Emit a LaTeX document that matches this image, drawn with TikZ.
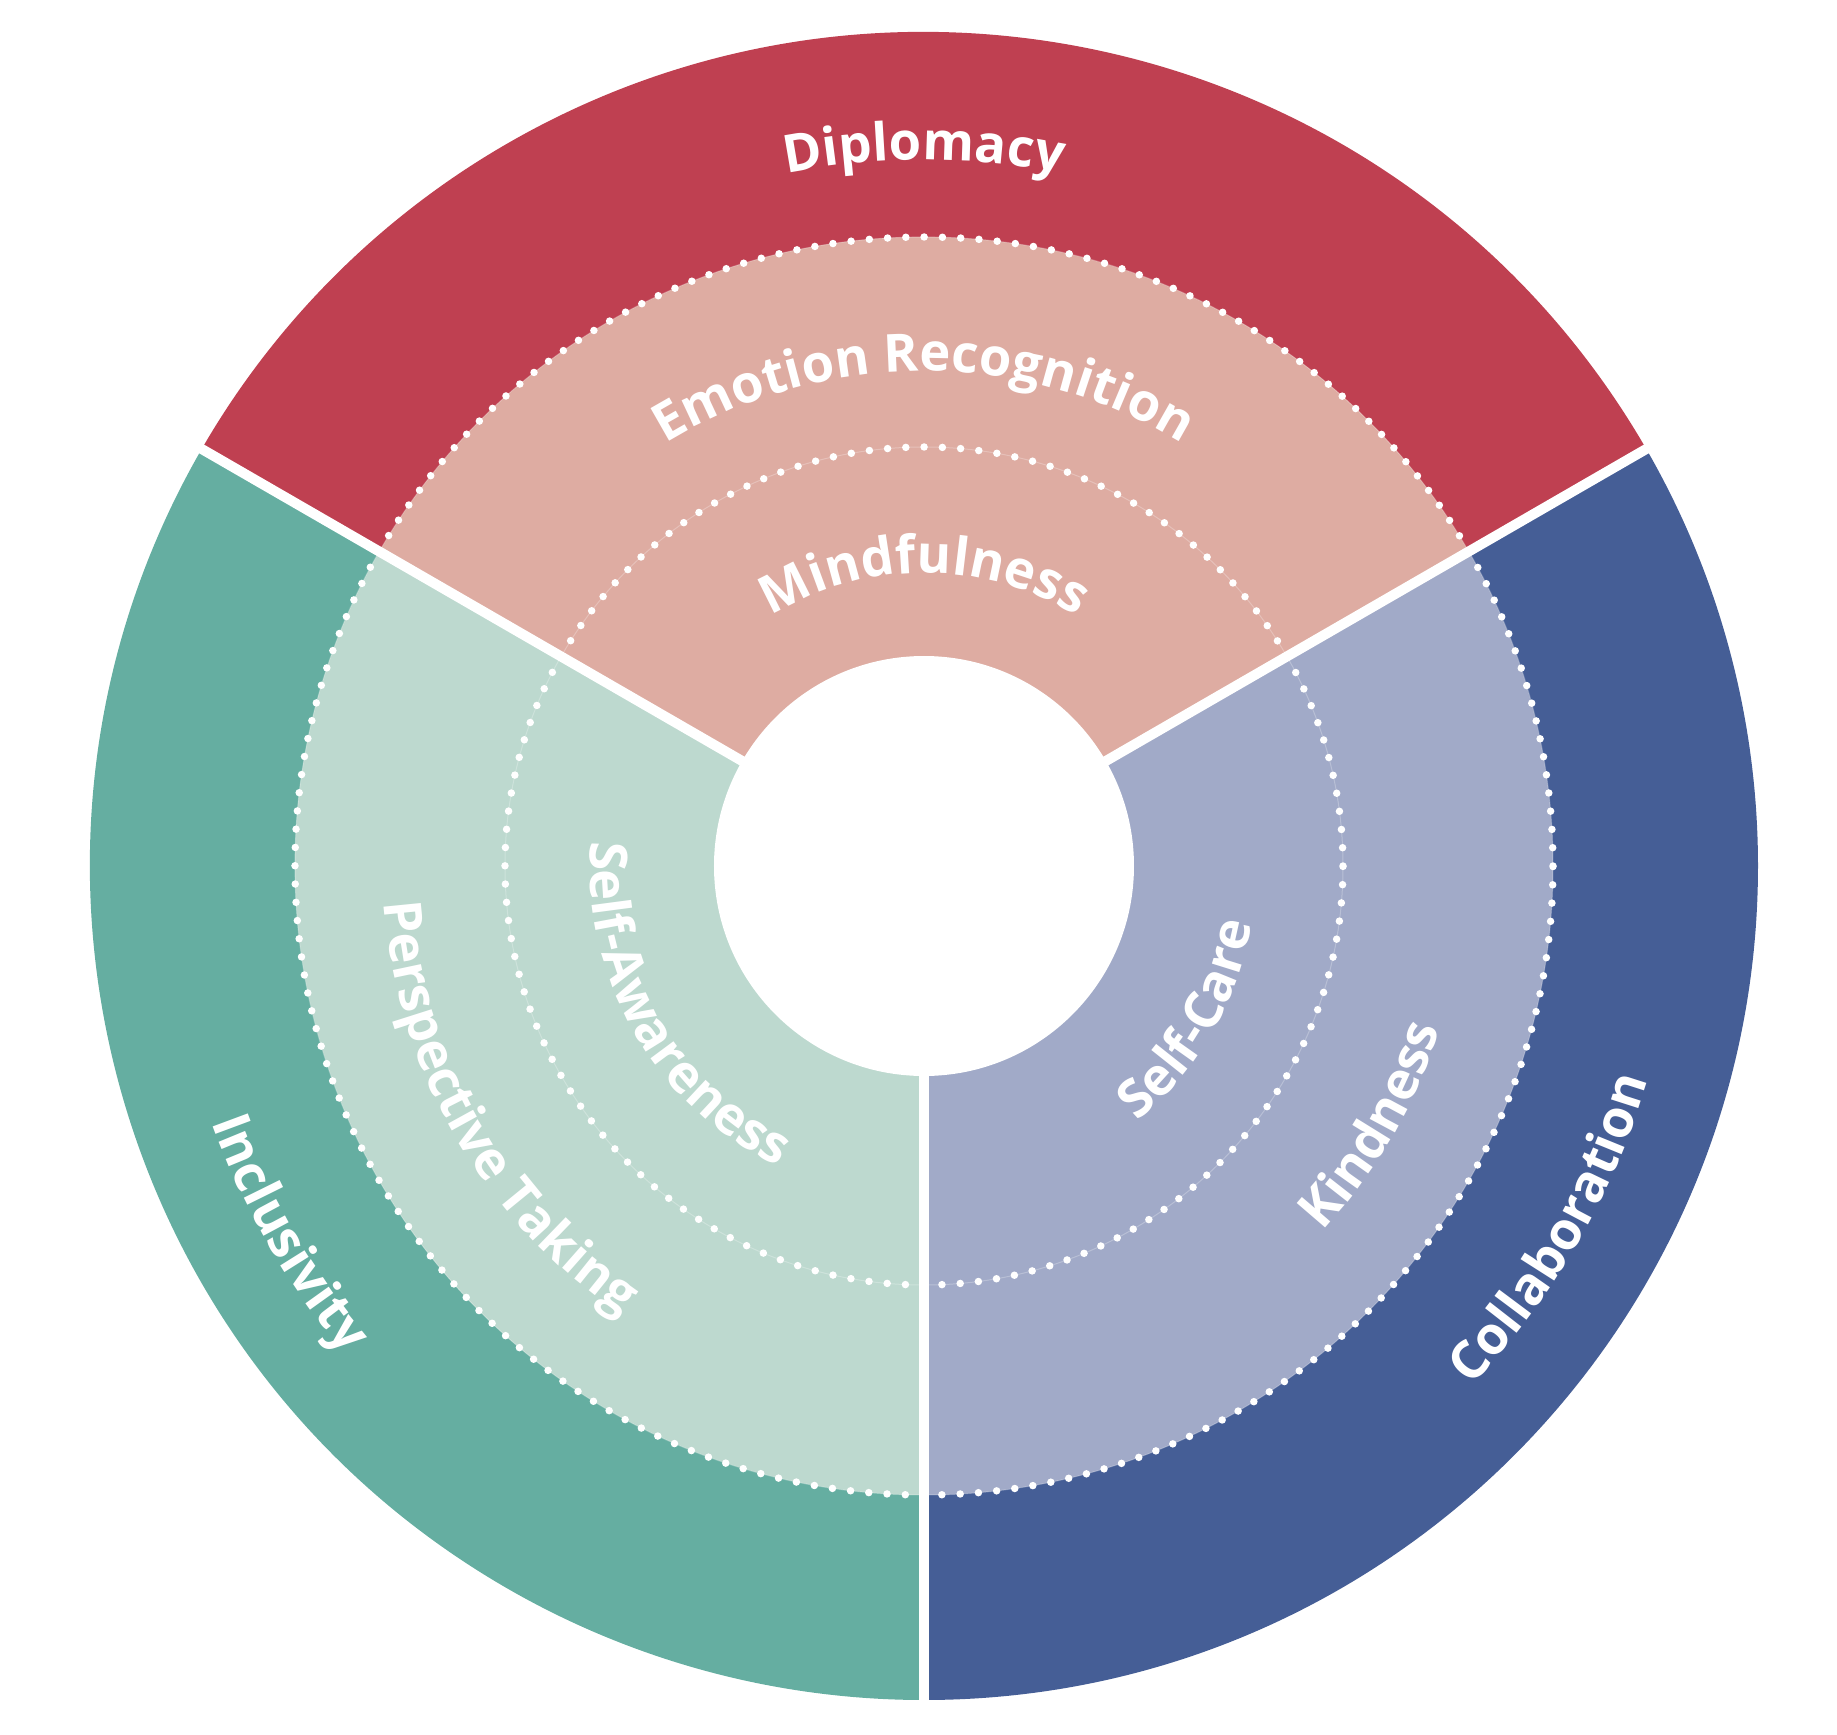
\documentclass[tikz,border=0pt]{standalone}
\usepackage{fontspec}
\setmainfont{Open Sans}
\usetikzlibrary{decorations.text}
\definecolor{redD}{HTML}{BF4051}
\definecolor{redL}{HTML}{DEACA2}
\definecolor{grnD}{HTML}{65AEA1}
\definecolor{grnL}{HTML}{BDD9CF}
\definecolor{bluD}{HTML}{455E96}
\definecolor{bluL}{HTML}{A1AAC8}
\newcommand\lblfont{\fontsize{52.5}{60}\selectfont\bfseries}
\tikzset{
  gapline/.style={draw=white, line width=10},
  dotring/.style={draw=white, line width=7.5, line cap=round, dash pattern=on 0pt off #1},
  faintring/.style={draw=white, opacity=0.25, line width=1},
  arclabel/.style={decorate, decoration={text along path, text={|\lblfont|#1}, text align=center, text color=white}},
}
\begin{document}
\begin{tikzpicture}[x=1pt,y=1pt]
\useasboundingbox (-924,-869) rectangle (913,866);
% outer sectors
\fill[redD] (0,0) -- (30:834) arc[start angle=30,end angle=150,radius=834] -- cycle;
\fill[grnD] (0,0) -- (150:834) arc[start angle=150,end angle=270,radius=834] -- cycle;
\fill[bluD] (0,0) -- (270:834) arc[start angle=270,end angle=390,radius=834] -- cycle;
% light sectors
\fill[redL] (0,0) -- (30:629) arc[start angle=30,end angle=150,radius=629] -- cycle;
\fill[grnL] (0,0) -- (150:629) arc[start angle=150,end angle=270,radius=629] -- cycle;
\fill[bluL] (0,0) -- (270:629) arc[start angle=270,end angle=390,radius=629] -- cycle;
% dotted rings
\draw[faintring] (0,0) circle (629);
\draw[faintring] (0,0) circle (419);
\draw[dotring=18.297pt] (0,0) circle (629);
\draw[dotring=18.282pt] (0,0) circle (419);
% gaps
\coordinate (c) at (0,0);
\coordinate (g1) at (30:860);
\coordinate (g2) at (150:860);
\coordinate (g3) at (270:860);
\draw[gapline] (c) -- (g1);
\draw[gapline] (c) -- (g2);
\draw[gapline] (c) -- (g3);
% hole
\fill[white] (c) circle (210);
% labels: top sector (clockwise, tops outward)
\path[arclabel=Diplomacy] (150:706) arc[start angle=150,end angle=30,radius=706];
\path[arclabel=Emotion Recognition] (150:495) arc[start angle=150,end angle=30,radius=495];
\path[arclabel=Mindfulness] (150:293) arc[start angle=150,end angle=30,radius=293];
% lower-left sector (counter-clockwise, tops inward)
\path[arclabel=Inclusivity] (150:757) arc[start angle=150,end angle=270,radius=757];
\path[arclabel=Perspective Taking] (150:541) arc[start angle=150,end angle=270,radius=541];
\path[arclabel=Self-Awareness] (150:334) arc[start angle=150,end angle=270,radius=334];
% lower-right sector
\path[arclabel=Collaboration] (270:755) arc[start angle=270,end angle=390,radius=755];
\path[arclabel=Kindness] (270:541) arc[start angle=270,end angle=390,radius=541];
\path[arclabel=Self-Care] (270:333) arc[start angle=270,end angle=390,radius=333];
\end{tikzpicture}
\end{document}
